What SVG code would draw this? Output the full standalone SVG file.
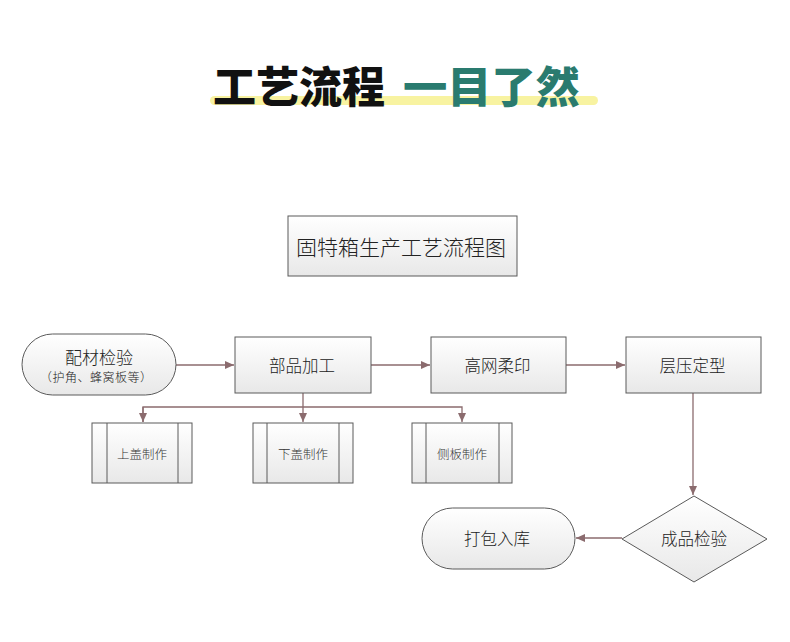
<svg xmlns="http://www.w3.org/2000/svg" width="790" height="642" viewBox="0 0 790 642">
<defs>
<linearGradient id="g" x1="0" y1="0" x2="0" y2="1">
<stop offset="0" stop-color="#ffffff"/>
<stop offset="1" stop-color="#e8e8e8"/>
</linearGradient>
<marker id="ah" markerWidth="10" markerHeight="8" refX="9" refY="4" orient="auto" markerUnits="userSpaceOnUse">
<path d="M0,0 L9,4 L0,8 Z" fill="#8b6b6e"/>
</marker>
<style>
.n{fill:url(#g);stroke:#5a5a5a;stroke-width:1}
.t{font-family:"Noto Sans CJK SC",sans-serif;font-weight:300;fill:#222;text-anchor:middle;dominant-baseline:central}
.s{font-size:12.5px;fill:#333}
.c{fill:none;stroke:#8b6b6e;stroke-width:1.3}
.h{font-family:"Noto Sans CJK SC",sans-serif;font-weight:900;font-size:43px}
</style>
</defs>
<rect width="790" height="642" fill="#ffffff"/>
<g id="title">
<rect x="210" y="96" width="388" height="9" rx="4.5" fill="#f8f3a1"/>
<text class="h" x="213" y="103" fill="#111111" textLength="172" lengthAdjust="spacingAndGlyphs">工艺流程</text>
<text class="h" x="403" y="103" fill="#2a7b6f" textLength="177" lengthAdjust="spacingAndGlyphs">一目了然</text>
</g>
<g id="heading">
<rect class="n" x="288" y="216" width="229" height="60"/>
<text class="t" x="401" y="246" font-size="21">固特箱生产工艺流程图</text>
</g>
<g id="connectors">
<line class="c" x1="176" y1="365" x2="234" y2="365" marker-end="url(#ah)"/>
<line class="c" x1="371" y1="365" x2="430" y2="365" marker-end="url(#ah)"/>
<line class="c" x1="566" y1="365" x2="625" y2="365" marker-end="url(#ah)"/>
<line class="c" x1="303" y1="393" x2="303" y2="422" marker-end="url(#ah)"/>
<polyline class="c" points="143,422 143,407 462,407 462,422" marker-end="url(#ah)"/>
<line class="c" x1="143" y1="407" x2="143" y2="422" marker-end="url(#ah)"/>
<line class="c" x1="693" y1="393" x2="693" y2="495" marker-end="url(#ah)"/>
<line class="c" x1="622" y1="538" x2="576" y2="538" marker-end="url(#ah)"/>
</g>
<g id="n1">
<rect class="n" x="22" y="334" width="154" height="61" rx="30.5"/>
<text class="t" x="99" y="356" font-size="17">配材检验</text>
<text class="t" x="96" y="376" font-size="12" textLength="112" lengthAdjust="spacing">（护角、蜂窝板等）</text>
</g>
<g id="n2">
<rect class="n" x="235" y="337" width="136" height="56"/>
<text class="t" x="302" y="365" font-size="16.5">部品加工</text>
</g>
<g id="n3">
<rect class="n" x="431" y="337" width="135" height="56"/>
<text class="t" x="497.5" y="365" font-size="16.5">高网柔印</text>
</g>
<g id="n4">
<rect class="n" x="626" y="337" width="135" height="56"/>
<text class="t" x="692.5" y="365" font-size="16.5">层压定型</text>
</g>
<g id="n5">
<rect class="n" x="92" y="423" width="100" height="60"/>
<line x1="107" y1="423" x2="107" y2="483" stroke="#5a5a5a"/>
<line x1="178" y1="423" x2="178" y2="483" stroke="#5a5a5a"/>
<text class="t s" x="142" y="453">上盖制作</text>
</g>
<g id="n6">
<rect class="n" x="253" y="423" width="100" height="60"/>
<line x1="267" y1="423" x2="267" y2="483" stroke="#5a5a5a"/>
<line x1="339" y1="423" x2="339" y2="483" stroke="#5a5a5a"/>
<text class="t s" x="303" y="453">下盖制作</text>
</g>
<g id="n7">
<rect class="n" x="412" y="423" width="100" height="60"/>
<line x1="426" y1="423" x2="426" y2="483" stroke="#5a5a5a"/>
<line x1="499" y1="423" x2="499" y2="483" stroke="#5a5a5a"/>
<text class="t s" x="462" y="453">侧板制作</text>
</g>
<g id="n8">
<polygon class="n" points="694,496 767,539 694,582 622,539"/>
<text class="t" x="694" y="538" font-size="16.5">成品检验</text>
</g>
<g id="n9">
<rect class="n" x="422" y="508" width="153" height="61" rx="30.5"/>
<text class="t" x="497" y="538" font-size="16.5">打包入库</text>
</g>
</svg>
